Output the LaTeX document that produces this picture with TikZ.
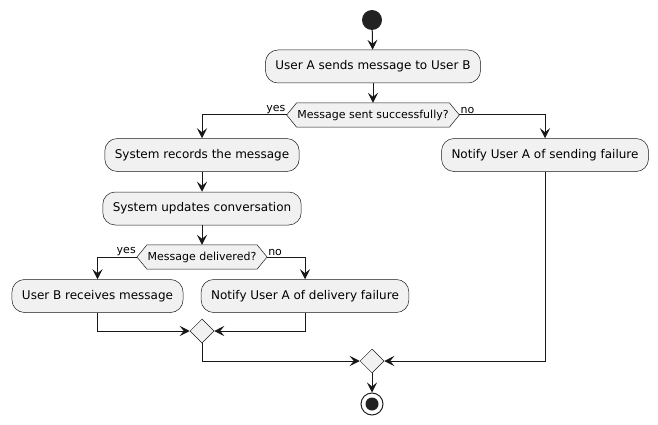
\documentclass[tikz,border=0pt]{standalone}
\usepackage{fontspec}
\setmainfont{DejaVu Sans}
\usetikzlibrary{arrows.meta,shapes.geometric,backgrounds}
\definecolor{boxfill}{HTML}{F1F1F1}
\definecolor{boxline}{HTML}{181818}
\definecolor{dotcol}{HTML}{222222}
\tikzset{
  act/.style={draw=boxline,line width=0.5pt,fill=boxfill,rounded corners=12.5pt,
    minimum height=33pt,inner xsep=10pt,inner ysep=0pt,font=\fontsize{12pt}{14pt}\selectfont},
  cond/.style={inner xsep=10.5pt,inner ysep=0pt,minimum height=24pt,font=\fontsize{11pt}{13pt}\selectfont},
  merge/.style={diamond,draw=boxline,line width=0.5pt,fill=boxfill,minimum width=24pt,minimum height=24pt,inner sep=0pt},
  arr/.style={draw=boxline,line width=1pt,-{Stealth[length=10pt,width=10pt,inset=4pt]}},
  ln/.style={draw=boxline,line width=1pt},
  lbl/.style={font=\fontsize{11pt}{13pt}\selectfont,inner sep=1pt},
}
\newcommand{\hexa}[1]{%
  \begin{scope}[on background layer]
  \path[draw=boxline,line width=0.5pt,fill=boxfill]
    (#1.west) -- ([xshift=10pt]#1.north west) -- ([xshift=-10pt]#1.north east) --
    (#1.east) -- ([xshift=-10pt]#1.south east) -- ([xshift=10pt]#1.south west) -- cycle;
  \end{scope}}
\begin{document}
\begin{tikzpicture}[x=1pt,y=-1pt]
\useasboundingbox (0,0) rectangle (658,425);
\node[circle,fill=dotcol,minimum size=20pt,inner sep=0pt] (start) at (372,20) {};
\node[act] (b1) at (373,66.5) {User A sends message to User B};
\node[cond] (d1) at (373,115) {Message sent successfully?};
\hexa{d1}
\node[act] (b2) at (202,155) {System records the message};
\node[act] (b3) at (545,155) {Notify User A of sending failure};
\node[act] (b4) at (202,208.5) {System updates conversation};
\node[cond] (d2) at (202,257) {Message delivered?};
\hexa{d2}
\node[act] (b5) at (97.5,296) {User B receives message};
\node[act] (b6) at (305,296) {Notify User A of delivery failure};
\node[merge] (m1) at (202,331) {};
\node[merge] (m2) at (372,361) {};
\node[circle,draw=dotcol,line width=1pt,fill=white,minimum size=22pt,inner sep=0pt] (stop) at (372,404) {};
\node[circle,fill=dotcol,minimum size=13pt,inner sep=0pt] (stopin) at (stop.center) {};

\draw[arr] (start) -- (b1);
\draw[arr] (b1) -- (d1);
\draw[arr] (d1.west) -| (b2.north);
\draw[arr] (d1.east) -| (b3.north);
\node[lbl,anchor=south east] (y1) at (d1.west) {yes};
\node[lbl,anchor=south west] (n1) at (d1.east) {no};
\draw[arr] (b2) -- (b4);
\draw[arr] (b4) -- (d2);
\draw[arr] (d2.west) -| (b5.north);
\draw[arr] (d2.east) -| (b6.north);
\node[lbl,anchor=south east] (y2) at (d2.west) {yes};
\node[lbl,anchor=south west] (n2) at (d2.east) {no};
\draw[arr] (b5.south) |- (m1.west);
\draw[arr] (b6.south) |- (m1.east);
\draw[arr] (m1.south) |- (m2.west);
\draw[arr] (b3.south) |- (m2.east);
\draw[arr] (m2) -- (stop);
\end{tikzpicture}
\end{document}
